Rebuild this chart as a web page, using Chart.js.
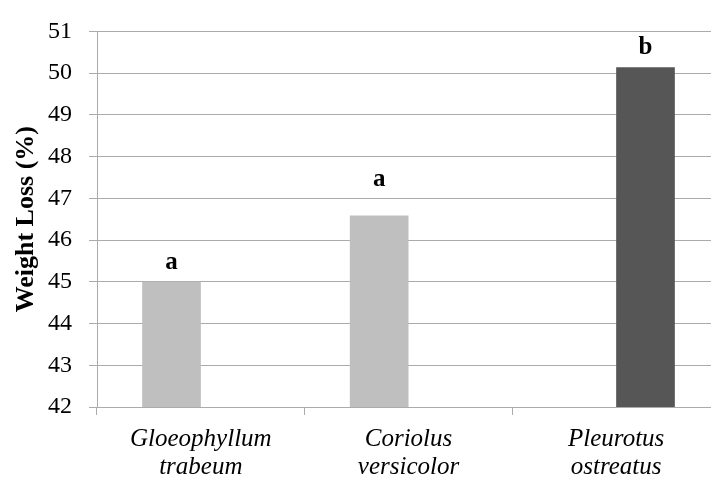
<!DOCTYPE html>
<html>
<head>
<meta charset="utf-8">
<script src="https://cdn.jsdelivr.net/npm/chart.js@4/dist/chart.umd.min.js"></script>
<style>
  html, body { margin: 0; padding: 0; background: #fff; overflow: hidden; }
  #wrap { width: 720px; height: 477px; }
</style>
</head>
<body>
<div id="wrap"><canvas id="chart" width="720" height="477"></canvas></div>
<script>
const species = [['Gloeophyllum', 'trabeum'], ['Coriolus', 'versicolor'], ['Pleurotus', 'ostreatus']];
const brownWhiteRot = [45.0, 46.59, null];   // light grey bars
const whiteRot = [null, null, 50.14];        // dark grey bar
const letters = ['a', 'a', 'b'];
const letterGaps = [13, 29, 13];             // px above bar top
const yMin = 42, yMax = 51, yStep = 1;

const serif = "'Liberation Serif', 'Times New Roman', serif";
const gridGrey = '#ababab';

// significance letters over the bars
const letterPlugin = {
  id: 'letters',
  afterDatasetsDraw(chart) {
    const ctx = chart.ctx;
    ctx.save();
    ctx.font = 'bold 25px ' + serif;
    ctx.fillStyle = '#000';
    ctx.textAlign = 'center';
    ctx.textBaseline = 'alphabetic';
    chart.data.datasets.forEach((ds, di) => {
      chart.getDatasetMeta(di).data.forEach((bar, i) => {
        if (ds.data[i] == null) return;
        ctx.fillText(letters[i], bar.x, bar.y - letterGaps[i]);
      });
    });
    ctx.restore();
  }
};

new Chart(document.getElementById('chart').getContext('2d'), {
  type: 'bar',
  data: {
    labels: species,
    datasets: [
      { data: brownWhiteRot, backgroundColor: '#bfbfbf', categoryPercentage: 0.565, barPercentage: 1 },
      { data: whiteRot, backgroundColor: '#565656', categoryPercentage: 0.565, barPercentage: 1 }
    ]
  },
  options: {
    responsive: false,
    animation: false,
    layout: { padding: { top: 24, right: 0, left: 0, bottom: 0 } },
    plugins: { legend: { display: false }, tooltip: { enabled: false } },
    scales: {
      x: {
        grid: { drawOnChartArea: false, drawTicks: true, tickLength: 8, color: gridGrey, offset: true },
        border: { color: gridGrey },
        ticks: {
          color: '#000',
          padding: 11,
          maxRotation: 0,
          font: { family: serif, size: 25, style: 'italic', lineHeight: 1.1 }
        },
        afterFit(scale) { scale.height = 70; }
      },
      y: {
        min: yMin,
        max: yMax,
        grid: { color: gridGrey, tickLength: 8 },
        border: { color: gridGrey },
        ticks: {
          stepSize: yStep,
          color: '#000',
          padding: 17,
          font: { family: serif, size: 24 }
        },
        title: {
          display: true,
          text: 'Weight Loss (%)',
          color: '#000',
          padding: { top: 11, bottom: 0 },
          font: { family: serif, size: 26, weight: 'bold' }
        },
        afterFit(scale) { scale.width = 97; }
      }
    }
  },
  plugins: [letterPlugin]
});
</script>
</body>
</html>
